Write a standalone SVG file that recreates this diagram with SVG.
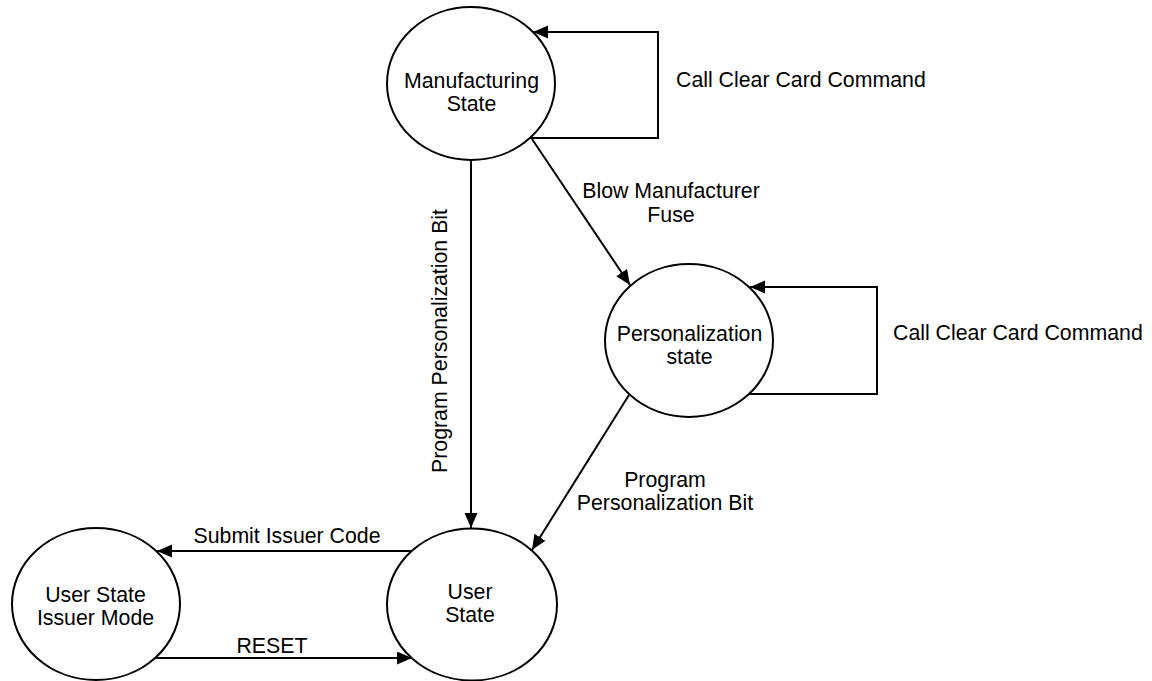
<svg xmlns="http://www.w3.org/2000/svg" width="1152" height="681" viewBox="0 0 1152 681">
<style>
.node ellipse{fill:#fff;stroke:#000;stroke-width:2}
text{font-family:"Liberation Sans",Arial,sans-serif;font-size:21.3px;fill:#000}
.c{text-anchor:middle}
.edge{fill:none;stroke:#000;stroke-width:2;marker-end:url(#arr)}
</style>
<defs>
<marker id="arr" markerUnits="userSpaceOnUse" markerWidth="16" markerHeight="14" refX="15" refY="6.5" orient="auto">
<path d="M0,0 L15,6.5 L0,13 z" fill="#000"/>
</marker>
</defs>
<rect width="1152" height="681" fill="#fff"/>
<g id="connectors">
<path class="edge" d="M530,138 H658 V32 H533"/>
<path class="edge" d="M471,160 V528"/>
<path class="edge" d="M532,139 L630,285"/>
<path class="edge" d="M749,394 H877 V287 H750"/>
<path class="edge" d="M629,395 L532,550"/>
<path class="edge" d="M412,551 H157"/>
<path class="edge" d="M156,658 H412"/>
<text x="676" y="87">Call Clear Card Command</text>
<text x="893" y="340">Call Clear Card Command</text>
<text class="c" x="671" y="198">Blow Manufacturer</text>
<text class="c" x="671" y="222">Fuse</text>
<text class="c" x="447" y="341" transform="rotate(-90 447 341)">Program Personalization Bit</text>
<text class="c" x="665" y="487">Program</text>
<text class="c" x="665" y="510">Personalization Bit</text>
<text class="c" x="287" y="543">Submit Issuer Code</text>
<text class="c" x="272" y="653">RESET</text>
</g>
<g id="manufacturing" class="node">
<ellipse cx="471" cy="83.5" rx="84" ry="76.5"/>
<text class="c" x="471.5" y="88">Manufacturing</text>
<text class="c" x="471.5" y="111">State</text>
</g>
<g id="personalization" class="node">
<ellipse cx="689" cy="340.5" rx="84" ry="76.5"/>
<text class="c" x="689.5" y="341">Personalization</text>
<text class="c" x="689.5" y="364">state</text>
</g>
<g id="user" class="node">
<ellipse cx="472" cy="604.5" rx="85" ry="76"/>
<text class="c" x="470" y="599">User</text>
<text class="c" x="470" y="622">State</text>
</g>
<g id="issuer" class="node">
<ellipse cx="96" cy="604" rx="84" ry="76"/>
<text class="c" x="95.5" y="602">User State</text>
<text class="c" x="95.5" y="625">Issuer Mode</text>
</g>
</svg>
